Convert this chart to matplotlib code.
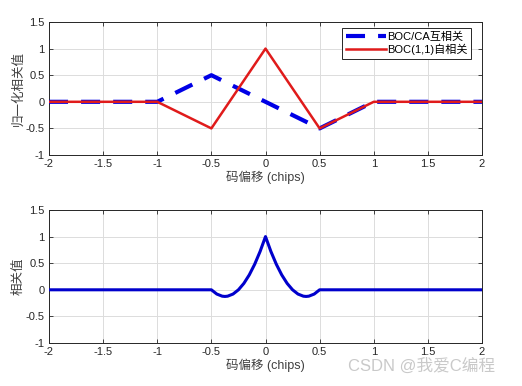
import matplotlib
matplotlib.use("Agg")
import matplotlib.pyplot as plt

plt.rcParams['font.family'] = ['Liberation Sans', 'Noto Sans CJK SC', 'DejaVu Sans']

# Top panel data
x_top = [-2, -1, -0.5, 0, 0.5, 1, 2]
boc_auto = [0, 0, -0.5, 1, -0.5, 0, 0]
x_cross = [-2, -1, -0.5, 0.5, 1, 2]
boc_ca_cross = [0, 0, 0.5, -0.5, 0, 0]

# Bottom panel data
x_bot = [-2, -0.5, -0.45, -0.4, -0.375, -0.35, -0.3, -0.25, -0.2, -0.15, -0.1, -0.05, 0,
         0.05, 0.1, 0.15, 0.2, 0.25, 0.3, 0.35, 0.375, 0.4, 0.45, 0.5, 2]
y_bot = [0, 0, -0.08, -0.12, -0.125, -0.12, -0.08, 0, 0.12, 0.28, 0.48, 0.72, 1,
         0.72, 0.48, 0.28, 0.12, 0, -0.08, -0.12, -0.125, -0.12, -0.08, 0, 0]

xticks = [-2, -1.5, -1, -0.5, 0, 0.5, 1, 1.5, 2]
xticklabels = ['-2', '-1.5', '-1', '-0.5', '0', '0.5', '1', '1.5', '2']
yticks = [-1, -0.5, 0, 0.5, 1, 1.5]
yticklabels = ['-1', '-0.5', '0', '0.5', '1', '1.5']

W, H = 522, 386
fig = plt.figure(figsize=(W / 100, H / 100), dpi=100)
ax1 = fig.add_axes([49 / W, 1 - 155 / H, (482 - 49) / W, (155 - 22) / H])
ax2 = fig.add_axes([49 / W, 1 - 343 / H, (482 - 49) / W, (343 - 210) / H])

lw_b = 3.0
ax1.plot(x_cross, boc_ca_cross, color='#0000e6', lw=lw_b,
         linestyle=(0, (13.7 / lw_b, 9.4 / lw_b)), label='BOC/CA互相关', zorder=3)
ax1.plot(x_top, boc_auto, color='#e01b1b', lw=1.8, label='BOC(1,1)自相关', zorder=4)

ax2.plot(x_bot, y_bot, color='#0000cc', lw=2.2, zorder=3)

for ax in (ax1, ax2):
    ax.set_xlim(-2, 2)
    ax.set_ylim(-1, 1.5)
    ax.set_xticks(xticks)
    ax.set_xticklabels(xticklabels)
    ax.set_yticks(yticks)
    ax.set_yticklabels(yticklabels)
    ax.grid(True, color='#dcdcdc', lw=0.7)
    ax.set_axisbelow(True)
    ax.tick_params(direction='in', top=True, right=True, length=3, width=0.6,
                   labelsize=8, colors='#262626', pad=3)
    for s in ax.spines.values():
        s.set_linewidth(0.7)
        s.set_color('#262626')
    ax.set_xlabel('码偏移 (chips)', fontsize=9, color='#404040', labelpad=1)

ax1.set_ylabel('归一化相关值', fontsize=9, color='#404040', labelpad=1)
ax2.set_ylabel('相关值', fontsize=9, color='#404040', labelpad=1)

leg = ax1.legend(loc='upper right', bbox_to_anchor=(471 / W, 1 - 28 / H),
                 bbox_transform=fig.transFigure, fontsize=8, frameon=True,
                 fancybox=False, edgecolor='#262626', framealpha=1,
                 handlelength=3.6, borderpad=0.3, labelspacing=0.2,
                 handletextpad=0.15, borderaxespad=0)
leg.get_frame().set_linewidth(0.7)

fig.text(348 / W, 1 - 371 / H, 'CSDN @我爱C编程', fontsize=12, color='#bcbcbc',
         alpha=0.8, ha='left', va='baseline')

fig.savefig('out.png', dpi=100)
